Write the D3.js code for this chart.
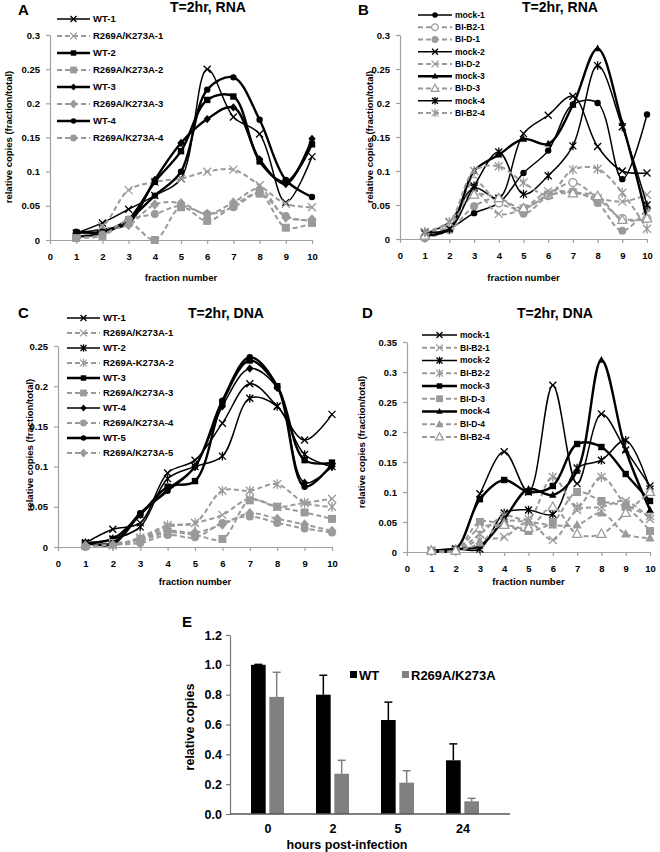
<!DOCTYPE html>
<html>
<head>
<meta charset="utf-8">
<script src="https://cdn.jsdelivr.net/npm/d3@7/dist/d3.min.js"></script>
<style>
  html, body { margin: 0; padding: 0; background: #fff; }
  svg { display: block; }
</style>
</head>
<body>
<svg id="chart" width="660" height="852"></svg>
<script>
// ---------------- DATA ----------------
const fractionNumbers = [1, 2, 3, 4, 5, 6, 7, 8, 9, 10];
const fractionTicks = [0, 1, 2, 3, 4, 5, 6, 7, 8, 9, 10];

// Panel A: T=2hr, RNA
const aLabels = ["WT-1", "R269A/K273A-1", "WT-2", "R269A/K273A-2", "WT-3", "R269A/K273A-3", "WT-4", "R269A/K273A-4"];
const aWT1 = [0.010, 0.025, 0.045, 0.065, 0.090, 0.250, 0.180, 0.155, 0.055, 0.122];
const aMut1 = [0.005, 0.020, 0.073, 0.085, 0.090, 0.100, 0.103, 0.080, 0.053, 0.048];
const aWT2 = [0.005, 0.010, 0.030, 0.085, 0.130, 0.205, 0.210, 0.115, 0.085, 0.140];
const aMut2 = [0.003, 0.006, 0.025, 0.000, 0.048, 0.028, 0.050, 0.068, 0.018, 0.025];
const aWT3 = [0.010, 0.015, 0.025, 0.088, 0.142, 0.177, 0.194, 0.118, 0.082, 0.148];
const aMut3 = [0.005, 0.015, 0.022, 0.052, 0.054, 0.038, 0.055, 0.075, 0.033, 0.030];
const aWT4 = [0.012, 0.012, 0.030, 0.065, 0.100, 0.220, 0.238, 0.176, 0.088, 0.063];
const aMut4 = [0.003, 0.008, 0.030, 0.038, 0.050, 0.038, 0.048, 0.068, 0.035, 0.028];
const aYTicks = [0, 0.05, 0.1, 0.15, 0.2, 0.25, 0.3];

// Panel B: T=2hr, RNA
const bLabels = ["mock-1", "BI-B2-1", "BI-D-1", "mock-2", "BI-D-2", "mock-3", "BI-D-3", "mock-4", "BI-B2-4"];
const bMock1 = [0.005, 0.015, 0.038, 0.053, 0.097, 0.130, 0.198, 0.200, 0.088, 0.183];
const bB2_1 = [0.002, 0.015, 0.085, 0.053, 0.045, 0.065, 0.083, 0.060, 0.030, 0.030];
const bD_1 = [0.002, 0.013, 0.048, 0.060, 0.037, 0.063, 0.070, 0.053, 0.012, 0.045];
const bMock2 = [0.008, 0.025, 0.075, 0.060, 0.155, 0.182, 0.210, 0.136, 0.100, 0.097];
const bD_2 = [0.010, 0.025, 0.070, 0.037, 0.045, 0.070, 0.068, 0.060, 0.055, 0.065];
const bMock3 = [0.005, 0.015, 0.100, 0.124, 0.147, 0.140, 0.197, 0.280, 0.170, 0.030];
const bD_3 = [0.005, 0.020, 0.065, 0.060, 0.045, 0.065, 0.067, 0.063, 0.028, 0.030];
const bMock4 = [0.010, 0.015, 0.078, 0.128, 0.066, 0.093, 0.137, 0.255, 0.165, 0.050];
const bB2_4 = [0.010, 0.025, 0.100, 0.107, 0.083, 0.065, 0.102, 0.103, 0.068, 0.015];
const bYTicks = [0, 0.05, 0.1, 0.15, 0.2, 0.25, 0.3];

// Panel C: T=2hr, DNA
const cLabels = ["WT-1", "R269A/K273A-1", "WT-2", "R269A-K273A-2", "WT-3", "R269A/K273A-3", "WT-4", "R269A/K273A-4", "WT-5", "R269A/K273A-5"];
const cWT1 = [0.005, 0.022, 0.030, 0.092, 0.108, 0.154, 0.203, 0.175, 0.133, 0.165];
const cMut1 = [0.002, 0.002, 0.010, 0.025, 0.030, 0.040, 0.060, 0.050, 0.055, 0.060];
const cWT2 = [0.005, 0.010, 0.025, 0.085, 0.100, 0.113, 0.185, 0.175, 0.115, 0.100];
const cMut2 = [0.002, 0.002, 0.012, 0.027, 0.030, 0.070, 0.070, 0.078, 0.055, 0.050];
const cWT3 = [0.005, 0.010, 0.040, 0.075, 0.082, 0.180, 0.232, 0.200, 0.108, 0.105];
const cMut3 = [0.002, 0.005, 0.008, 0.018, 0.015, 0.010, 0.058, 0.050, 0.043, 0.035];
const cWT4 = [0.005, 0.003, 0.040, 0.072, 0.100, 0.175, 0.222, 0.198, 0.080, 0.100];
const cMut4 = [0.000, 0.003, 0.005, 0.015, 0.012, 0.030, 0.038, 0.030, 0.023, 0.018];
const cWT5 = [0.005, 0.005, 0.042, 0.070, 0.100, 0.182, 0.236, 0.200, 0.075, 0.103];
const cMut5 = [0.002, 0.003, 0.010, 0.020, 0.018, 0.028, 0.042, 0.035, 0.028, 0.020];
const cYTicks = [0, 0.05, 0.1, 0.15, 0.2, 0.25];

// Panel D: T=2hr, DNA
const dLabels = ["mock-1", "BI-B2-1", "mock-2", "BI-B2-2", "mock-3", "BI-D-3", "mock-4", "BI-D-4", "BI-B2-4"];
const dMock1 = [0.002, 0.005, 0.097, 0.167, 0.100, 0.278, 0.114, 0.230, 0.170, 0.110];
const dB2_1 = [0.002, 0.002, 0.020, 0.025, 0.050, 0.020, 0.070, 0.075, 0.085, 0.055];
const dMock2 = [0.002, 0.005, 0.005, 0.065, 0.070, 0.063, 0.140, 0.153, 0.186, 0.105];
const dB2_2 = [0.002, 0.002, 0.030, 0.060, 0.055, 0.125, 0.075, 0.125, 0.080, 0.060];
const dMock3 = [0.002, 0.005, 0.088, 0.120, 0.100, 0.110, 0.180, 0.175, 0.130, 0.085];
const dD_3 = [0.002, 0.002, 0.050, 0.045, 0.035, 0.050, 0.100, 0.085, 0.075, 0.035];
const dMock4 = [0.002, 0.005, 0.010, 0.055, 0.105, 0.095, 0.135, 0.320, 0.170, 0.070];
const dD_4 = [0.002, 0.002, 0.015, 0.050, 0.050, 0.045, 0.045, 0.065, 0.030, 0.023];
const dB2_4 = [0.002, 0.002, 0.040, 0.045, 0.040, 0.075, 0.030, 0.030, 0.065, 0.100];
const dYTicks = [0, 0.05, 0.1, 0.15, 0.2, 0.25, 0.3, 0.35];

// Panel E: relative copies vs hours post-infection
const hours = ["0", "2", "5", "24"];
const eGroups = ["WT", "R269A/K273A"];
const eWT = [1.00, 0.80, 0.63, 0.36];
const eWTErr = [0.003, 0.13, 0.12, 0.11];
const eMut = [0.785, 0.27, 0.21, 0.085];
const eMutErr = [0.165, 0.09, 0.08, 0.02];
const eYTicks = [0, 0.2, 0.4, 0.6, 0.8, 1.0, 1.2];

// ---------------- STYLES ----------------
const FONT = "'Liberation Sans', Arial, Helvetica, sans-serif";
const BLACK = "#000";
const GRAY = "#9a9a9a";
const AXIS = "#a0a0a0";

function blk(marker, thin) { return { color: BLACK, dash: null, width: thin ? 1.5 : 2.4, marker, open: false, ms: marker === 'x' || marker === 'ast' ? 3.5 : 3.2 }; }
function gry(marker, open) { return { color: GRAY, dash: "5,3", width: 2, marker, open: !!open, ms: 4 }; }

function markerPath(type, s) {
  switch (type) {
    case 'x': return `M${-s},${-s}L${s},${s}M${-s},${s}L${s},${-s}`;
    case 'ast': return `M${-s},${-s}L${s},${s}M${-s},${s}L${s},${-s}M0,${-s * 1.25}L0,${s * 1.25}`;
    case 'square': return `M${-s},${-s}H${s}V${s}H${-s}Z`;
    case 'diamond': return `M0,${-s * 1.3}L${s * 1.15},0L0,${s * 1.3}L${-s * 1.15},0Z`;
    case 'circle': return d3.symbol(d3.symbolCircle, Math.PI * s * s)();
    case 'triangle': return `M0,${-s * 1.25}L${s * 1.15},${s * 0.85}L${-s * 1.15},${s * 0.85}Z`;
  }
}
function styleMarker(sel, st) {
  const stroked = st.marker === 'x' || st.marker === 'ast';
  sel.attr("d", markerPath(st.marker, st.ms))
    .attr("fill", stroked ? "none" : (st.open ? "#fff" : st.color))
    .attr("stroke", stroked || st.open ? st.color : "none")
    .attr("stroke-width", stroked ? 1.3 : 1.2);
}

const svg = d3.select("#chart");
svg.append("rect").attr("width", 660).attr("height", 852).attr("fill", "#fff");

function fmtTick(d) { return d === 0 ? "0" : String(+d.toFixed(2)); }

function drawPanel(cfg) {
  const g = svg.append("g");
  const x = d3.scaleLinear().domain([0, 10]).range(cfg.xr);
  const y = d3.scaleLinear().domain([0, cfg.ymax]).range(cfg.yr);

  const ya = g.append("g").attr("transform", `translate(${cfg.xr[0]},0)`)
    .call(d3.axisLeft(y).tickValues(cfg.yTicks).tickFormat(fmtTick).tickSize(4).tickSizeOuter(0).tickPadding(6));
  const xa = g.append("g").attr("transform", `translate(0,${cfg.yr[0]})`)
    .call(d3.axisBottom(x).tickValues(fractionTicks).tickFormat(d3.format("d")).tickSize(4).tickSizeOuter(0).tickPadding(9));
  [ya, xa].forEach(a => {
    a.select(".domain").attr("stroke", AXIS).attr("stroke-width", 1.2);
    a.selectAll(".tick line").attr("stroke", AXIS).attr("stroke-width", 1.2);
    a.selectAll("text").attr("fill", "#000").attr("font-family", FONT).attr("font-weight", "bold").attr("font-size", "9.5px");
  });

  const line = d3.line().x((d, i) => x(fractionNumbers[i])).y(d => y(d)).curve(d3.curveCatmullRom.alpha(0.5));
  cfg.series.forEach(s => {
    g.append("path").datum(s.values).attr("d", line)
      .attr("fill", "none").attr("stroke", s.style.color).attr("stroke-width", s.style.width)
      .attr("stroke-dasharray", s.style.dash).attr("stroke-linejoin", "round");
    g.selectAll(null).data(s.values).enter().append("path")
      .attr("transform", (d, i) => `translate(${x(fractionNumbers[i])},${y(d)})`)
      .call(styleMarker, s.style);
  });

  const lg = g.append("g");
  cfg.series.forEach((s, i) => {
    const ly = cfg.leg.y + i * cfg.leg.dy;
    const row = lg.append("g").attr("transform", `translate(${cfg.leg.x},${ly})`);
    row.append("line").attr("x1", 0).attr("x2", cfg.leg.len).attr("y1", 0).attr("y2", 0)
      .attr("stroke", s.style.color).attr("stroke-width", s.style.width).attr("stroke-dasharray", s.style.dash);
    row.append("path").attr("transform", `translate(${cfg.leg.len / 2},0)`).call(styleMarker, Object.assign({}, s.style, { ms: s.style.ms * 0.85 }));
    row.append("text").attr("x", cfg.leg.len + 3).attr("y", 0).attr("dy", "0.35em")
      .attr("font-family", FONT).attr("font-weight", "bold").attr("font-size", cfg.leg.fs + "px").text(s.label);
  });

  g.append("text").attr("x", cfg.title[0]).attr("y", cfg.title[1]).attr("text-anchor", "middle")
    .attr("font-family", FONT).attr("font-weight", "bold").attr("font-size", "14px").text(cfg.titleText);
  g.append("text").attr("x", cfg.letter[0]).attr("y", cfg.letter[1])
    .attr("font-family", FONT).attr("font-weight", "bold").attr("font-size", "15px").text(cfg.letterText);
  g.append("text").attr("transform", `translate(${cfg.ylab[0]},${cfg.ylab[1]}) rotate(-90)`)
    .attr("text-anchor", "middle").attr("dy", "0.35em")
    .attr("font-family", FONT).attr("font-weight", "bold").attr("font-size", "9.5px").text("relative copies (fraction/total)");
  g.append("text").attr("x", (cfg.xr[0] + cfg.xr[1]) / 2).attr("y", cfg.xlabY).attr("text-anchor", "middle")
    .attr("font-family", FONT).attr("font-weight", "bold").attr("font-size", "9.5px").text("fraction number");
}

function build(labels, arrays, styles) {
  return labels.map((l, i) => ({ label: l, values: arrays[i], style: styles[i] }));
}

drawPanel({
  xr: [50, 312], yr: [240, 35], ymax: 0.3, yTicks: aYTicks,
  series: build(aLabels, [aWT1, aMut1, aWT2, aMut2, aWT3, aMut3, aWT4, aMut4],
    [blk('x', true), gry('x'), blk('square'), gry('square'), blk('diamond'), gry('diamond'), blk('circle'), gry('circle')]),
  leg: { x: 57, y: 19, dy: 17, len: 33, fs: 9.5 },
  title: [208, 12], titleText: "T=2hr, RNA",
  letter: [18, 15], letterText: "A",
  ylab: [9, 137], xlabY: 281
});

drawPanel({
  xr: [400, 647], yr: [239, 35], ymax: 0.3, yTicks: bYTicks,
  series: build(bLabels, [bMock1, bB2_1, bD_1, bMock2, bD_2, bMock3, bD_3, bMock4, bB2_4],
    [blk('circle', true), gry('circle', true), gry('circle'), blk('x', true), gry('x'), blk('triangle'), gry('triangle', true), blk('ast', true), gry('ast')]),
  leg: { x: 418, y: 15, dy: 12.25, len: 34, fs: 8.5 },
  title: [560, 12], titleText: "T=2hr, RNA",
  letter: [358, 15], letterText: "B",
  ylab: [370, 137], xlabY: 281
});

drawPanel({
  xr: [58, 332], yr: [547, 346], ymax: 0.25, yTicks: cYTicks,
  series: build(cLabels, [cWT1, cMut1, cWT2, cMut2, cWT3, cMut3, cWT4, cMut4, cWT5, cMut5],
    [blk('x', true), gry('x'), blk('ast', true), gry('ast'), blk('square'), gry('square'), blk('diamond', true), gry('circle'), blk('circle'), gry('diamond')]),
  leg: { x: 67, y: 318, dy: 15, len: 33, fs: 9.5 },
  title: [226, 318], titleText: "T=2hr, DNA",
  letter: [18, 318], letterText: "C",
  ylab: [30, 445], xlabY: 585
});

drawPanel({
  xr: [407, 650], yr: [552, 342], ymax: 0.35, yTicks: dYTicks,
  series: build(dLabels, [dMock1, dB2_1, dMock2, dB2_2, dMock3, dD_3, dMock4, dD_4, dB2_4],
    [blk('x', true), gry('x'), blk('ast', true), gry('ast'), blk('square'), gry('square'), blk('triangle'), gry('triangle'), gry('triangle', true)]),
  leg: { x: 422, y: 335, dy: 12.75, len: 35, fs: 8.5 },
  title: [555, 318], titleText: "T=2hr, DNA",
  letter: [362, 318], letterText: "D",
  ylab: [362, 442], xlabY: 585
});

(function () {
  const g = svg.append("g");
  const x0 = d3.scalePoint().domain(hours).range([267.5, 462.5]);
  const x1 = d3.scaleBand().domain(eGroups).range([-16.5, 16.5]).paddingInner(0.2);
  const y = d3.scaleLinear().domain([0, 1.2]).range([814, 635]);
  const colors = ["#000", "#808080"];
  const vals = [eWT, eMut], errs = [eWTErr, eMutErr];

  eGroups.forEach((grp, gi) => {
    hours.forEach((h, i) => {
      const bx = x0(h) + x1(grp);
      const cx = bx + x1.bandwidth() / 2;
      g.append("rect").attr("x", bx).attr("width", x1.bandwidth())
        .attr("y", y(vals[gi][i])).attr("height", y(0) - y(vals[gi][i])).attr("fill", colors[gi]);
      const top = y(vals[gi][i] + errs[gi][i]);
      g.append("line").attr("x1", cx).attr("x2", cx).attr("y1", y(vals[gi][i])).attr("y2", top)
        .attr("stroke", colors[gi]).attr("stroke-width", 1.5);
      g.append("line").attr("x1", cx - 4).attr("x2", cx + 4).attr("y1", top).attr("y2", top)
        .attr("stroke", colors[gi]).attr("stroke-width", 1.5);
    });
  });

  const ya = g.append("g").attr("transform", "translate(230,0)")
    .call(d3.axisLeft(y).tickValues(eYTicks).tickFormat(d3.format(".1f")).tickSize(4).tickSizeOuter(0).tickPadding(4));
  ya.select(".domain").attr("stroke", "#777").attr("stroke-width", 1.2);
  ya.selectAll(".tick line").attr("stroke", "#777").attr("stroke-width", 1.2);
  ya.selectAll("text").attr("fill", "#000").attr("font-family", FONT).attr("font-weight", "bold").attr("font-size", "12.5px");

  g.append("line").attr("x1", 230).attr("x2", 510).attr("y1", 814).attr("y2", 814).attr("stroke", "#555").attr("stroke-width", 1.3);
  const xa = g.append("g").attr("transform", "translate(0,814)")
    .call(d3.axisBottom(x0).tickSize(0).tickPadding(10));
  xa.select(".domain").remove();
  xa.selectAll("text").attr("fill", "#000").attr("font-family", FONT).attr("font-weight", "bold").attr("font-size", "12.5px");

  const leg = [[350, "WT"], [402, "R269A/K273A"]];
  leg.forEach((l, i) => {
    g.append("rect").attr("x", l[0]).attr("y", 671).attr("width", 7).attr("height", 7).attr("fill", colors[i]);
    g.append("text").attr("x", l[0] + 9).attr("y", 675).attr("dy", "0.35em")
      .attr("font-family", FONT).attr("font-weight", "bold").attr("font-size", "13px").text(l[1]);
  });

  g.append("text").attr("x", 182).attr("y", 627).attr("font-family", FONT).attr("font-weight", "bold").attr("font-size", "15px").text("E");
  g.append("text").attr("transform", "translate(190,727) rotate(-90)").attr("text-anchor", "middle").attr("dy", "0.35em")
    .attr("font-family", FONT).attr("font-weight", "bold").attr("font-size", "12.5px").text("relative copies");
  g.append("text").attr("x", 347).attr("y", 849).attr("text-anchor", "middle")
    .attr("font-family", FONT).attr("font-weight", "bold").attr("font-size", "12.5px").text("hours post-infection");
})();
</script>
</body>
</html>
